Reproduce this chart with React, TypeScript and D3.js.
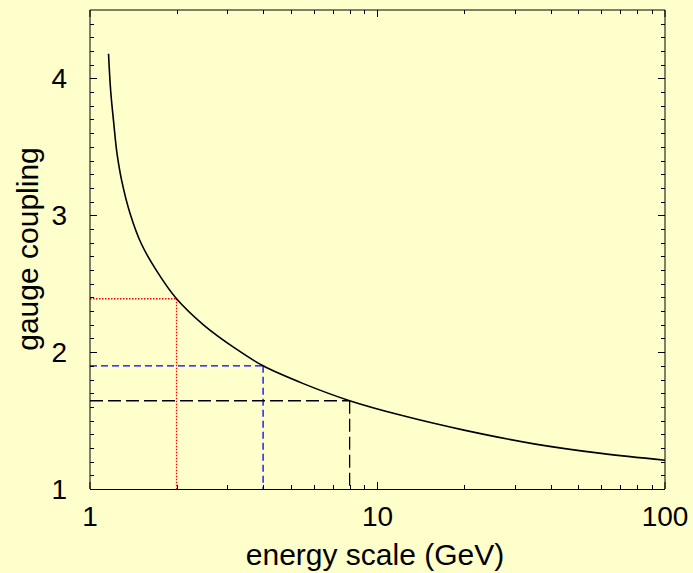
import React from "react";
import * as d3 from "d3";

const energy = [1.16, 1.18, 1.21, 1.24, 1.29, 1.38, 1.51, 1.71, 2, 2.48, 3.24, 4, 5.52, 8, 12, 20, 35, 60, 100];
const coupling = [4.18, 3.91, 3.67, 3.46, 3.25, 3.01, 2.79, 2.59, 2.39, 2.2, 2.02, 1.9, 1.77, 1.645, 1.54, 1.43, 1.33, 1.26, 1.21];

const markX = [2, 4, 8];
const markY = [2.39, 1.9, 1.645];
const markColor = ["#ff0000", "#0000ff", "#000000"];
const markDash = ["1.5,1.5", "7,4", "13,5"];

const xTickLabels = ["1", "10", "100"];
const xMajor = [1, 10, 100];
const yMajor = [1, 2, 3, 4];

export default function App() {
  const W = 693, H = 573;
  const L = 90, R = 665, T = 10, B = 489;
  const x = d3.scaleLog().domain([1, 100]).range([L, R]);
  const y = d3.scaleLinear().domain([1, 4.5]).range([B, T]);

  const xMinor: number[] = [];
  [1, 10].forEach((d) => { for (let k = 2; k <= 9; k++) xMinor.push(d * k); });
  const yMinor: number[] = [];
  for (let i = 1; i < 35; i++) { const v = 1 + i / 10; if (Math.abs(v - Math.round(v)) > 1e-6) yMinor.push(v); }

  const pts = energy.map((e, i) => [x(e), y(coupling[i])] as [number, number]);
  const line = d3.line().curve(d3.curveCatmullRom.alpha(0.5))(pts) || "";

  const font = "'Liberation Sans', Arial, Helvetica, sans-serif";
  const majLen = 7, minLen = 4;

  return (
    <svg width={W} height={H} style={{ position: "absolute", left: 0, top: 0, display: "block" }}>
      <rect x={0} y={0} width={W} height={H} fill="#ffffcc" />
      {/* reference lines */}
      {markX.map((mx, i) => (
        <g key={"m" + i} stroke={markColor[i]} strokeWidth={1.3} strokeDasharray={markDash[i]} fill="none">
          <line x1={L} x2={x(mx)} y1={y(markY[i])} y2={y(markY[i])} />
          <line x1={x(mx)} x2={x(mx)} y1={y(markY[i])} y2={B} />
        </g>
      ))}
      {/* curve */}
      <path d={line} fill="none" stroke="#000" strokeWidth={1.6} />
      {/* frame */}
      <g stroke="#000" strokeWidth={1} fill="none">
        <line x1={L} x2={L} y1={T} y2={B} />
        <line x1={R} x2={R} y1={T} y2={B} />
        <line x1={L} x2={R} y1={T} y2={T} />
        <line x1={L} x2={R} y1={B + 0.5} y2={B + 0.5} />
      </g>
      {/* ticks */}
      <g stroke="#000" strokeWidth={1}>
        {xMajor.map((v) => (
          <g key={"xM" + v}>
            <line x1={x(v)} x2={x(v)} y1={B} y2={B - majLen} />
            <line x1={x(v)} x2={x(v)} y1={T} y2={T + majLen} />
          </g>
        ))}
        {xMinor.map((v) => (
          <g key={"xm" + v}>
            <line x1={Math.round(x(v)) + 0.5} x2={Math.round(x(v)) + 0.5} y1={B} y2={B - minLen} />
            <line x1={Math.round(x(v)) + 0.5} x2={Math.round(x(v)) + 0.5} y1={T} y2={T + minLen} />
          </g>
        ))}
        {yMajor.map((v) => (
          <g key={"yM" + v}>
            <line x1={L} x2={L + majLen} y1={Math.round(y(v)) + 0.5} y2={Math.round(y(v)) + 0.5} />
            <line x1={R} x2={R - majLen} y1={Math.round(y(v)) + 0.5} y2={Math.round(y(v)) + 0.5} />
          </g>
        ))}
        {yMinor.map((v) => (
          <g key={"ym" + v}>
            <line x1={L} x2={L + minLen} y1={Math.round(y(v)) + 0.5} y2={Math.round(y(v)) + 0.5} />
            <line x1={R} x2={R - minLen} y1={Math.round(y(v)) + 0.5} y2={Math.round(y(v)) + 0.5} />
          </g>
        ))}
      </g>
      {/* tick labels */}
      <g fontFamily={font} fontSize={28} fill="#000">
        {xMajor.map((v, i) => (
          <text key={"xl" + v} x={x(v)} y={526} textAnchor="middle">{xTickLabels[i]}</text>
        ))}
        {yMajor.map((v) => (
          <text key={"yl" + v} x={67} y={y(v) + 10} textAnchor="end">{String(v)}</text>
        ))}
      </g>
      <text x={375} y={565} textAnchor="middle" fontFamily={font} fontSize={30} fill="#000">energy scale (GeV)</text>
      <text transform={`translate(38,249) rotate(-90)`} textAnchor="middle" fontFamily={font} fontSize={30} fill="#000">gauge coupling</text>
    </svg>
  );
}
